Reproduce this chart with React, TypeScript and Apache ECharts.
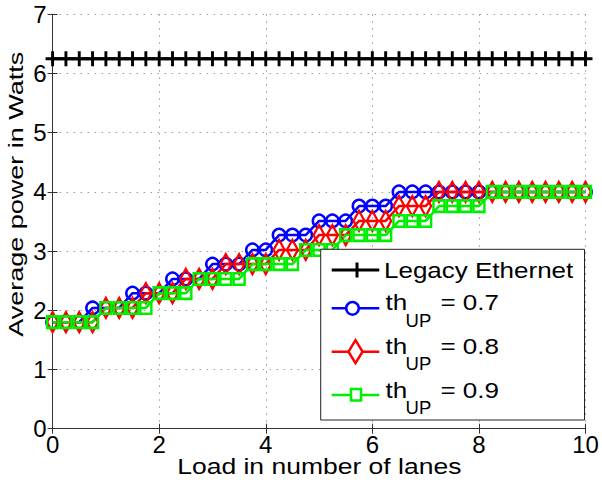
import React, { useEffect, useRef } from "react";
import * as echarts from "echarts";

// ---- data ----
const loads = [0, 0.25, 0.5, 0.75, 1, 1.25, 1.5, 1.75, 2, 2.25, 2.5, 2.75, 3, 3.25, 3.5, 3.75, 4, 4.25, 4.5, 4.75, 5, 5.25, 5.5, 5.75, 6, 6.25, 6.5, 6.75, 7, 7.25, 7.5, 7.75, 8, 8.25, 8.5, 8.75, 9, 9.25, 9.5, 9.75, 10];

const legacyPower = [6.25, 6.25, 6.25, 6.25, 6.25, 6.25, 6.25, 6.25, 6.25, 6.25, 6.25, 6.25, 6.25, 6.25, 6.25, 6.25, 6.25, 6.25, 6.25, 6.25, 6.25, 6.25, 6.25, 6.25, 6.25, 6.25, 6.25, 6.25, 6.25, 6.25, 6.25, 6.25, 6.25, 6.25, 6.25, 6.25, 6.25, 6.25, 6.25, 6.25, 6.25];

const powerTh07 = [1.8, 1.8, 1.8, 2.04, 2.04, 2.04, 2.29, 2.29, 2.29, 2.53, 2.53, 2.53, 2.78, 2.78, 2.78, 3.02, 3.02, 3.27, 3.27, 3.27, 3.51, 3.51, 3.51, 3.76, 3.76, 3.76, 4.0, 4.0, 4.0, 4.0, 4.0, 4.0, 4.0, 4.0, 4.0, 4.0, 4.0, 4.0, 4.0, 4.0, 4.0];

const powerTh08 = [1.8, 1.8, 1.8, 1.8, 2.04, 2.04, 2.04, 2.29, 2.29, 2.29, 2.53, 2.53, 2.53, 2.78, 2.78, 2.78, 2.78, 3.02, 3.02, 3.02, 3.27, 3.27, 3.27, 3.51, 3.51, 3.51, 3.76, 3.76, 3.76, 4.0, 4.0, 4.0, 4.0, 4.0, 4.0, 4.0, 4.0, 4.0, 4.0, 4.0, 4.0];

const powerTh09 = [1.8, 1.8, 1.8, 1.8, 2.04, 2.04, 2.04, 2.04, 2.29, 2.29, 2.29, 2.53, 2.53, 2.53, 2.53, 2.78, 2.78, 2.78, 2.78, 3.02, 3.02, 3.02, 3.27, 3.27, 3.27, 3.27, 3.51, 3.51, 3.51, 3.76, 3.76, 3.76, 3.76, 4.0, 4.0, 4.0, 4.0, 4.0, 4.0, 4.0, 4.0];

const xTicks = { min: 0, max: 10, interval: 2 };
const yTicks = { min: 0, max: 7, interval: 1 };

const xTitle = "Load in number of lanes";
const yTitle = "Average power in Watts";
const legendLegacy = "Legacy Ethernet";
const thresholdLabels = ["0.7", "0.8", "0.9"];

const BLUE = "#0000ff";
const RED = "#ff0000";
const GREEN = "#00ee00";
const FONT = "'Liberation Sans', Arial, Helvetica, sans-serif";

function pairs(ys: number[]) {
  return loads.map((x, i) => [x, ys[i]]);
}

function buildLegend() {
  const z = 100;
  const lx0 = 331.7;
  const lx1 = 379.3;
  const mx = 355.5;
  const els: any[] = [];
  els.push({
    type: "rect",
    z,
    shape: { x: 320.7, y: 249.3, width: 263.8, height: 170.7 },
    style: { fill: "#fff", stroke: "#222", lineWidth: 1 },
  });
  // Row 1: legacy
  const y1 = 270;
  els.push({ type: "line", z: z + 1, shape: { x1: lx0, y1, x2: lx1, y2: y1 }, style: { stroke: "#000", lineWidth: 3 } });
  els.push({ type: "line", z: z + 1, shape: { x1: mx + 1.5, y1: y1 - 7.5, x2: mx + 1.5, y2: y1 + 7.5 }, style: { stroke: "#000", lineWidth: 3 } });
  els.push({
    type: "text", z: z + 1, x: 384, y: 270.5, scaleY: 0.82,
    style: { text: legendLegacy, fontSize: 26, fontFamily: FONT, fill: "#000", align: "left", verticalAlign: "middle" },
  });
  const lineYs = [308.3, 351.7, 395];
  const textYs = [302.8, 346.5, 390];
  const colors = [BLUE, RED, GREEN];
  for (let i = 0; i < 3; i++) {
    const ly = lineYs[i];
    const c = colors[i];
    els.push({ type: "line", z: z + 1, shape: { x1: lx0, y1: ly, x2: lx1, y2: ly }, style: { stroke: c, lineWidth: 2.5 } });
    if (i === 0) {
      els.push({ type: "circle", z: z + 2, shape: { cx: mx - 3, cy: ly, r: 6.3 }, style: { fill: "#fff", stroke: c, lineWidth: 2.5 } });
    } else if (i === 1) {
      els.push({
        type: "polygon", z: z + 2,
        shape: { points: [[mx, ly - 11.5], [mx + 7, ly], [mx, ly + 11.5], [mx - 7, ly]] },
        style: { fill: "#fff", stroke: c, lineWidth: 2.5 },
      });
    } else {
      els.push({ type: "rect", z: z + 2, shape: { x: mx - 4.5, y: ly - 6, width: 10, height: 11.5 }, style: { fill: "#fff", stroke: c, lineWidth: 2.5 } });
    }
    const ty = textYs[i];
    els.push({
      type: "text", z: z + 1, x: 385.5, y: ty, scaleY: 0.82,
      style: { text: "th", fontSize: 26, fontFamily: FONT, fill: "#000", align: "left", verticalAlign: "middle" },
    });
    els.push({
      type: "text", z: z + 1, x: 405.6, y: ty + 17.9, scaleY: 0.97,
      style: { text: "UP", fontSize: 18.5, fontFamily: FONT, fill: "#000", align: "left", verticalAlign: "middle" },
    });
    els.push({
      type: "text", z: z + 1, x: 440.4, y: ty, scaleY: 0.82,
      style: { text: "= " + thresholdLabels[i], fontSize: 26, fontFamily: FONT, fill: "#000", align: "left", verticalAlign: "middle" },
    });
  }
  return els;
}

export default function App() {
  const ref = useRef<HTMLDivElement>(null);
  useEffect(() => {
    const chart = echarts.init(ref.current!, null, { renderer: "svg" });
    const axisLine = { show: true, lineStyle: { color: "#333", width: 1 } };
    const axisTick = { show: true, inside: true, length: 5, lineStyle: { color: "#333", width: 1 } };
    const splitLine = { show: true, lineStyle: { color: "#999", width: 1, type: [1.5, 5.5] } };
    const labelStyle = { color: "#000", fontSize: 24, fontFamily: FONT };
    const option: any = {
      animation: false,
      backgroundColor: "#fff",
      grid: { left: 52.6, right: 16.5, top: 14.3, bottom: 60.3, show: false },
      xAxis: [
        {
          type: "value", ...xTicks, position: "bottom",
          axisLine, axisTick, splitLine,
          axisLabel: { ...labelStyle, margin: 4 },
        },
        {
          type: "value", ...xTicks, position: "top",
          axisLine, axisTick, splitLine: { show: false }, axisLabel: { show: false },
        },
      ],
      yAxis: [
        {
          type: "value", ...yTicks, position: "left",
          axisLine, axisTick, splitLine,
          axisLabel: { ...labelStyle, margin: 6 },
        },
        {
          type: "value", ...yTicks, position: "right",
          axisLine, axisTick, splitLine: { show: false }, axisLabel: { show: false },
        },
      ],
      series: [
        {
          name: legendLegacy, type: "line", data: pairs(legacyPower),
          symbol: "path://M10,0 L10,20 M0,10 L20,10", symbolSize: [14, 15],
          showAllSymbol: true, clip: false,
          lineStyle: { color: "#000", width: 3 },
          itemStyle: { color: "rgba(0,0,0,0)", borderColor: "#000", borderWidth: 3 },
        },
        {
          name: "thUP = 0.7", type: "line", data: pairs(powerTh07),
          symbol: "circle", symbolSize: 12.5, showAllSymbol: true, clip: false,
          lineStyle: { color: BLUE, width: 2.5 },
          itemStyle: { color: "rgba(255,255,255,0)", borderColor: BLUE, borderWidth: 2.5 },
        },
        {
          name: "thUP = 0.8", type: "line", data: pairs(powerTh08),
          symbol: "diamond", symbolSize: [11, 20], showAllSymbol: true, clip: false,
          lineStyle: { color: RED, width: 2.5 },
          itemStyle: { color: "rgba(255,255,255,0)", borderColor: RED, borderWidth: 2.5 },
        },
        {
          name: "thUP = 0.9", type: "line", data: pairs(powerTh09),
          symbol: "rect", symbolSize: [11, 11.5], showAllSymbol: true, clip: false,
          lineStyle: { color: GREEN, width: 2.5 },
          itemStyle: { color: "rgba(255,255,255,0)", borderColor: GREEN, borderWidth: 2.5 },
        },
      ],
      graphic: [
        {
          type: "text", z: 100, x: 319.3, y: 466.5, scaleY: 0.8,
          style: { text: xTitle, fontSize: 26.5, fontFamily: FONT, fill: "#000", align: "center", verticalAlign: "middle" },
        },
        {
          type: "text", z: 100, x: 15.8, y: 194.2, rotation: Math.PI / 2, scaleY: 0.78,
          style: { text: yTitle, fontSize: 27, fontFamily: FONT, fill: "#000", align: "center", verticalAlign: "middle" },
        },
        ...buildLegend(),
      ],
    };
    chart.setOption(option);
    return () => chart.dispose();
  }, []);
  return (
    <div
      ref={ref}
      style={{ position: "fixed", left: 0, top: 0, width: 602, height: 489, background: "#fff" }}
    />
  );
}
